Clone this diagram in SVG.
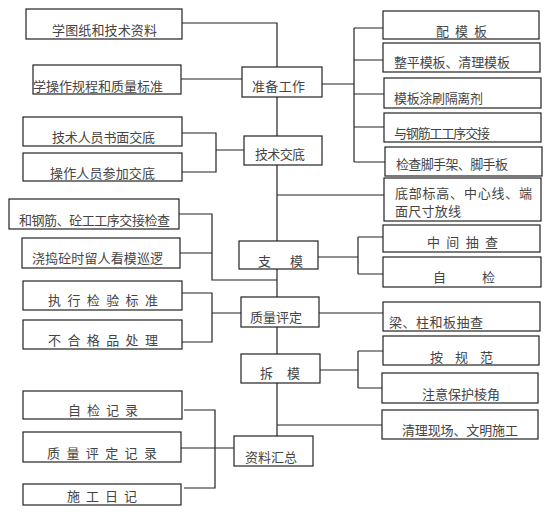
<svg xmlns="http://www.w3.org/2000/svg" width="553" height="514" viewBox="0 0 553 514">
<style>
rect{fill:#fff;stroke:#222;stroke-width:1.2}
text{font-family:"Noto Sans CJK SC","Noto Sans CJK JP",sans-serif;font-size:13px;fill:#444}
#connectors path{fill:none;stroke:#222;stroke-width:1.2}
</style>
<rect x="0" y="0" width="553" height="514" style="stroke:none"/>
<g id="connectors">
<path d="M182,23H277V67"/>
<path d="M181,79H242"/>
<path d="M322,84H354M354,28V162M354,28H383M354,60H383M354,94H384M354,127H384M354,162H385"/>
<path d="M277,97V136"/>
<path d="M182,133H216V172H182M216,150H244"/>
<path d="M277,165V241M277,195H384"/>
<path d="M179,214H212V280H277M180,253H212"/>
<path d="M318,257H358M358,237V274M358,237H383M358,274H383"/>
<path d="M277,269V297"/>
<path d="M319,313H383"/>
<path d="M182,293H212V342H182M212,313H241"/>
<path d="M277,327V354"/>
<path d="M320,370H358M358,351V388M358,351H383M358,388H382"/>
<path d="M277,383V436M277,425H382"/>
<path d="M184,410H215V488H184M181,448H234"/>
</g>
<g id="n1"><rect x="26" y="9" width="156" height="30"/><text x="52" y="35" textLength="105">学图纸和技术资料</text></g>
<g id="n2"><rect x="33" y="65" width="148" height="29"/><text x="33" y="91" textLength="130">学操作规程和质量标准</text></g>
<g id="n3"><rect x="23" y="117" width="159" height="29"/><text x="52" y="142" textLength="103">技术人员书面交底</text></g>
<g id="n4"><rect x="23" y="153" width="159" height="28"/><text x="50" y="178" textLength="105">操作人员参加交底</text></g>
<g id="zbgz"><rect x="242" y="67" width="80" height="30"/><text x="252" y="91" textLength="53">准备工作</text></g>
<g id="jsjd"><rect x="244" y="136" width="78" height="29"/><text x="255" y="159" textLength="50">技术交底</text></g>
<g id="r1"><rect x="383" y="11" width="156" height="28"/><text x="436" y="36" textLength="51">配 模 板</text></g>
<g id="r2"><rect x="383" y="43" width="157" height="29"/><text x="394" y="67" textLength="116">整平模板、清理模板</text></g>
<g id="r3"><rect x="384" y="78" width="157" height="30"/><text x="394" y="103" textLength="89">模板涂刷隔离剂</text></g>
<g id="r4"><rect x="384" y="113" width="157" height="29"/><text x="394" y="138" textLength="96">与钢筋工工序交接</text></g>
<g id="r5"><rect x="385" y="147" width="157" height="29"/><text x="396" y="169" textLength="112">检查脚手架、脚手板</text></g>
<g id="r6"><rect x="384" y="178" width="157" height="43"/><text x="395" y="198" textLength="137">底部标高、中心线、端</text><text x="395" y="216" textLength="66">面尺寸放线</text></g>
<g id="l1"><rect x="9" y="199" width="170" height="30"/><text x="19" y="225" textLength="151">和钢筋、砼工工序交接检查</text></g>
<g id="l2"><rect x="22" y="238" width="158" height="30"/><text x="32" y="263" textLength="131">浇捣砼时留人看模巡逻</text></g>
<g id="zm"><rect x="239" y="241" width="79" height="28"/><text x="258" y="266" textLength="45">支 模</text></g>
<g id="r7"><rect x="383" y="225" width="157" height="27"/><text x="427" y="247" textLength="71">中 间 抽 查</text></g>
<g id="r8"><rect x="383" y="257" width="158" height="30"/><text x="433" y="282" textLength="62">自 检</text></g>
<g id="l3"><rect x="23" y="281" width="159" height="29"/><text x="48" y="305" textLength="110">执 行 检 验 标 准</text></g>
<g id="l4"><rect x="23" y="320" width="159" height="29"/><text x="48" y="345" textLength="110">不 合 格 品 处 理</text></g>
<g id="zlpd"><rect x="241" y="297" width="78" height="30"/><text x="250" y="322" textLength="52">质量评定</text></g>
<g id="r9"><rect x="383" y="302" width="157" height="29"/><text x="389" y="327" textLength="94">梁、柱和板抽查</text></g>
<g id="cm"><rect x="241" y="354" width="79" height="29"/><text x="260" y="378" textLength="40">拆 模</text></g>
<g id="r10"><rect x="383" y="336" width="156" height="29"/><text x="430" y="362" textLength="63">按 规 范</text></g>
<g id="r11"><rect x="382" y="373" width="156" height="30"/><text x="422" y="399" textLength="78">注意保护棱角</text></g>
<g id="r12"><rect x="382" y="410" width="156" height="29"/><text x="402" y="435" textLength="116">清理现场、文明施工</text></g>
<g id="l5"><rect x="23" y="391" width="159" height="28"/><text x="68" y="415" textLength="70">自 检 记 录</text></g>
<g id="l6"><rect x="23" y="432" width="158" height="30"/><text x="47" y="458" textLength="110">质 量 评 定 记 录</text></g>
<g id="l7"><rect x="23" y="484" width="158" height="21"/><text x="67" y="501" textLength="70">施 工 日 记</text></g>
<g id="zlhz"><rect x="234" y="436" width="79" height="30"/><text x="245" y="462" textLength="52">资料汇总</text></g>
</svg>
